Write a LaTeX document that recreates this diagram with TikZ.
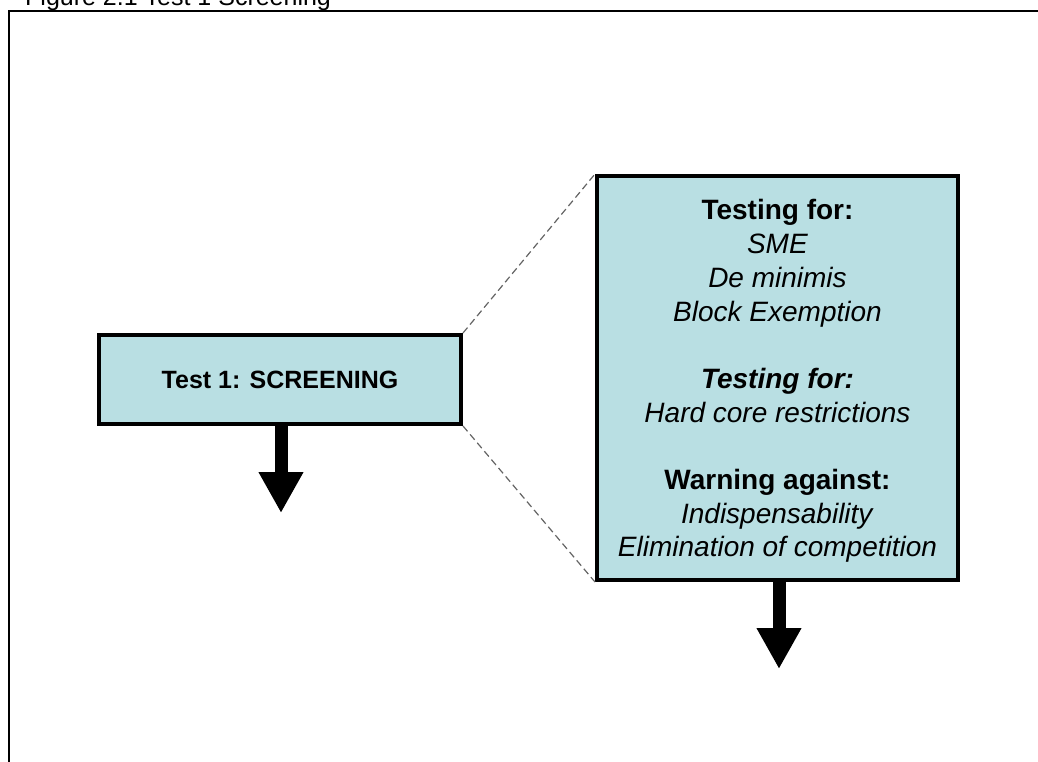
\documentclass[tikz,border=0pt]{standalone}
\usepackage{fontspec}
\setmainfont{Liberation Sans}
\usetikzlibrary{arrows.meta}
\definecolor{boxfill}{RGB}{185,223,227}
\definecolor{dashgray}{RGB}{100,100,100}
\tikzset{
  testbox/.style={draw=black, line width=3.6pt, fill=boxfill, inner sep=0pt},
  zoomline/.style={draw=dashgray, line width=1.2pt, dash pattern=on 7pt off 4pt},
  bigarrow/.style={line width=13pt, -{Triangle[width=42pt,length=41pt]}},
}
\begin{document}
\begin{tikzpicture}[x=1pt,y=-1pt]
\useasboundingbox (0,0) rectangle (1038,762);
% outer frame (right and bottom edges fall outside the page)
\draw[line width=2pt] (9,11) rectangle (1060,790);
% title, cut by the page top
\node[anchor=base west, inner sep=0pt, font=\fontsize{25}{30}\selectfont] (title) at (25,5.5) {Figure 2.1 Test 1 Screening};
% left box
\node[testbox, minimum width=362.4pt, minimum height=89.4pt,
      font=\fontsize{25}{30}\selectfont\bfseries] (screen) at (280,379.5) {Test 1: SCREENING};
% right box
\node[testbox, minimum width=361.4pt, minimum height=404.4pt] (detail) at (777.5,378) {};
\node[anchor=north, inner sep=0pt, align=center,
      font=\fontsize{28}{33.7}\selectfont] (detailtext) at (777.5,199.5)
  {\textbf{Testing for:}\\ \textit{SME}\\ \textit{De minimis}\\ \textit{Block Exemption}\\[33.7pt]
   \textbf{\textit{Testing for:}}\\ \textit{Hard core restrictions}\\[33.7pt]
   \textbf{Warning against:}\\ \textit{Indispensability}\\ \textit{Elimination of competition}};
% zoom lines
\draw[zoomline] (screen.north east) -- (detail.north west);
\draw[zoomline] (screen.south east) -- (detail.south west);
% arrows
\coordinate (ltip) at (281,513);
\coordinate (rtip) at (779,669);
\draw[bigarrow] (screen.south -| ltip) -- (ltip);
\draw[bigarrow] (detail.south -| rtip) -- (rtip);
\end{tikzpicture}
\end{document}
